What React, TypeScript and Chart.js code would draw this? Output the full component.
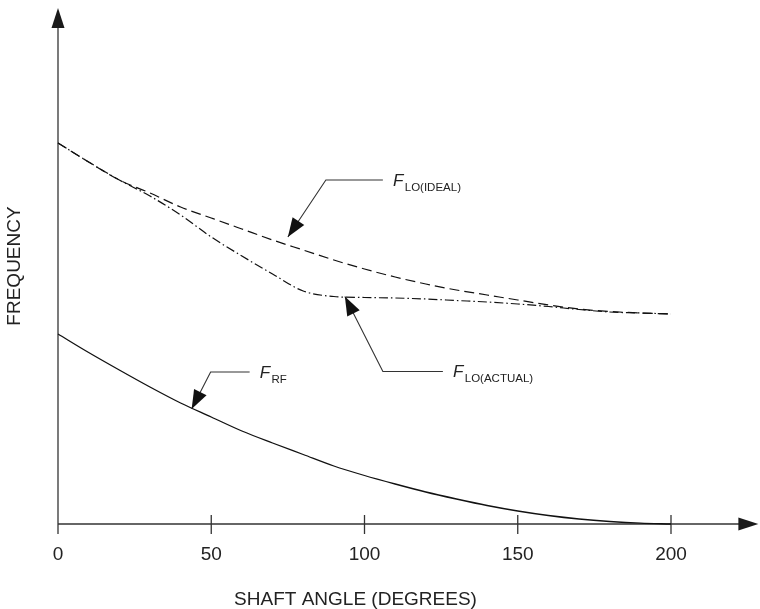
import React, { useEffect, useRef } from 'react';
import { Chart, registerables } from 'chart.js';

Chart.register(...registerables);

// ---- data (frequency in relative units, angle in degrees) ----
const ANGLES = [0, 10, 20, 30, 40, 50, 60, 70, 80, 90, 100, 110, 120, 130, 140, 150, 160, 170, 180, 190, 200];
const F_RF = [1.9, 1.715, 1.54, 1.37, 1.21, 1.07, 0.93, 0.81, 0.695, 0.58, 0.485, 0.4, 0.32, 0.25, 0.185, 0.13, 0.085, 0.05, 0.025, 0.008, 0];
const F_LO_IDEAL = [3.81, 3.62, 3.44, 3.31, 3.17, 3.06, 2.95, 2.84, 2.74, 2.64, 2.55, 2.47, 2.4, 2.34, 2.29, 2.24, 2.19, 2.15, 2.125, 2.11, 2.1];
const F_LO_ACTUAL = [3.81, 3.62, 3.44, 3.28, 3.09, 2.87, 2.68, 2.5, 2.33, 2.275, 2.265, 2.26, 2.25, 2.235, 2.22, 2.2, 2.175, 2.145, 2.12, 2.11, 2.1];
const X_TICKS = [0, 50, 100, 150, 200];
const X_TITLE = 'SHAFT ANGLE (DEGREES)';
const Y_TITLE = 'FREQUENCY';
const X_AXIS_END = 228.5;
const Y_AXIS_END = 5.16;

// labels pointing at curves: anchor in data units
const CALLOUTS = [
  { main: 'F', sub: 'LO(IDEAL)', x: 75, y: 2.87, dx: 38, dy: -57, run: 57 },
  { main: 'F', sub: 'LO(ACTUAL)', x: 93.6, y: 2.275, dx: 38, dy: 75, run: 60 },
  { main: 'F', sub: 'RF', x: 43.6, y: 1.15, dx: 19, dy: -37, run: 39 },
];

const FAMILY = '"Liberation Sans", Arial, Helvetica, sans-serif';

function arrowHead(ctx: CanvasRenderingContext2D, tx: number, ty: number, ux: number, uy: number, len: number, half: number) {
  const bx = tx + ux * len;
  const by = ty + uy * len;
  const px = -uy;
  const py = ux;
  ctx.beginPath();
  ctx.moveTo(tx, ty);
  ctx.lineTo(bx + px * half, by + py * half);
  ctx.lineTo(bx - px * half, by - py * half);
  ctx.closePath();
  ctx.fill();
}

export default function App() {
  const ref = useRef<HTMLCanvasElement>(null);

  useEffect(() => {
    const canvas = ref.current;
    if (!canvas) return;

    const overlay = {
      id: 'overlay',
      beforeDatasetsDraw(chart: any) {
        const ctx: CanvasRenderingContext2D = chart.ctx;
        const xs = chart.scales.x;
        const ys = chart.scales.y;
        const x0 = xs.getPixelForValue(0);
        const y0 = ys.getPixelForValue(0);
        const xEnd = xs.getPixelForValue(X_AXIS_END);
        const yEnd = ys.getPixelForValue(Y_AXIS_END);
        ctx.save();
        ctx.strokeStyle = '#333';
        ctx.fillStyle = '#1a1a1a';
        ctx.lineWidth = 1.3;
        // y axis
        ctx.beginPath();
        ctx.moveTo(x0, y0 + 10);
        ctx.lineTo(x0, yEnd + 18);
        ctx.stroke();
        arrowHead(ctx, x0, yEnd, 0, 1, 20, 6.5);
        // x axis
        ctx.beginPath();
        ctx.moveTo(x0, y0);
        ctx.lineTo(xEnd - 18, y0);
        ctx.stroke();
        arrowHead(ctx, xEnd, y0, -1, 0, 20, 6.5);
        // tick marks crossing the axis
        X_TICKS.forEach((v) => {
          if (v === 0) return;
          const px = xs.getPixelForValue(v);
          ctx.beginPath();
          ctx.moveTo(px, y0 - 9);
          ctx.lineTo(px, y0 + 10);
          ctx.stroke();
        });
        ctx.restore();
      },
      afterDatasetsDraw(chart: any) {
        const ctx: CanvasRenderingContext2D = chart.ctx;
        const xs = chart.scales.x;
        const ys = chart.scales.y;
        ctx.save();
        // callouts
        CALLOUTS.forEach((c) => {
          const tx = xs.getPixelForValue(c.x);
          const ty = ys.getPixelForValue(c.y);
          const ex = tx + c.dx;
          const ey = ty + c.dy;
          const hx = ex + c.run;
          ctx.strokeStyle = '#333';
          ctx.lineWidth = 1.1;
          ctx.beginPath();
          ctx.moveTo(tx, ty);
          ctx.lineTo(ex, ey);
          ctx.lineTo(hx, ey);
          ctx.stroke();
          const L = Math.hypot(c.dx, c.dy);
          ctx.fillStyle = '#111';
          arrowHead(ctx, tx, ty, c.dx / L, c.dy / L, 19, 7);
          // label
          ctx.fillStyle = '#222';
          ctx.textBaseline = 'alphabetic';
          ctx.textAlign = 'left';
          ctx.font = `italic 17px ${FAMILY}`;
          const fx = hx + 10;
          const base = ey + 5.5;
          ctx.fillText(c.main, fx, base);
          const fw = ctx.measureText(c.main).width;
          ctx.font = `11.5px ${FAMILY}`;
          ctx.fillText(c.sub, fx + fw + 1.5, base + 5);
        });
        // x axis title
        ctx.fillStyle = '#222';
        ctx.font = `19px ${FAMILY}`;
        ctx.textAlign = 'center';
        ctx.textBaseline = 'alphabetic';
        const tcx = (xs.getPixelForValue(0) + xs.getPixelForValue(200)) / 2 - 9;
        ctx.fillText(X_TITLE, tcx, ys.getPixelForValue(0) + 81);
        ctx.restore();
      },
    };

    const pts = (vals: number[]) => ANGLES.map((x, i) => ({ x, y: vals[i] }));

    const chart = new Chart(canvas, {
      type: 'line',
      data: {
        datasets: [
          {
            label: 'F_RF',
            data: pts(F_RF),
            borderColor: '#111',
            borderWidth: 1.3,
            pointRadius: 0,
            cubicInterpolationMode: 'monotone',
            clip: false as any,
          },
          {
            label: 'F_LO(IDEAL)',
            data: pts(F_LO_IDEAL),
            borderColor: '#111',
            borderWidth: 1.2,
            borderDash: [10, 5],
            pointRadius: 0,
            cubicInterpolationMode: 'monotone',
            clip: false as any,
          },
          {
            label: 'F_LO(ACTUAL)',
            data: pts(F_LO_ACTUAL),
            borderColor: '#111',
            borderWidth: 1.2,
            borderDash: [9, 3, 1.5, 3],
            pointRadius: 0,
            cubicInterpolationMode: 'monotone',
            clip: false as any,
          },
        ],
      },
      options: {
        responsive: false,
        animation: false,
        layout: { padding: { left: 0, top: 8, right: 89, bottom: 0 } },
        plugins: {
          legend: { display: false },
          tooltip: { enabled: false },
        },
        scales: {
          x: {
            type: 'linear',
            min: 0,
            max: 200,
            afterBuildTicks: (s: any) => {
              s.ticks = X_TICKS.map((v) => ({ value: v }));
            },
            afterFit: (s: any) => {
              s.height = 85;
            },
            grid: { display: false, drawTicks: false },
            border: { display: false },
            ticks: {
              font: { family: FAMILY, size: 19 },
              color: '#222',
              padding: 19,
              maxRotation: 0,
              autoSkip: false,
            },
          },
          y: {
            type: 'linear',
            min: 0,
            max: Y_AXIS_END,
            afterFit: (s: any) => {
              s.width = 58;
            },
            grid: { display: false, drawTicks: false },
            border: { display: false },
            ticks: { display: false },
            title: {
              display: true,
              text: Y_TITLE,
              font: { family: FAMILY, size: 19 },
              color: '#222',
              padding: { top: 3, bottom: 0 },
            },
          },
        },
      } as any,
      plugins: [overlay],
    });

    return () => chart.destroy();
  }, []);

  return (
    <div style={{ position: 'absolute', left: 0, top: 0, width: 760, height: 609, background: '#fff' }}>
      <canvas ref={ref} width={760} height={609} style={{ display: 'block' }} />
    </div>
  );
}
